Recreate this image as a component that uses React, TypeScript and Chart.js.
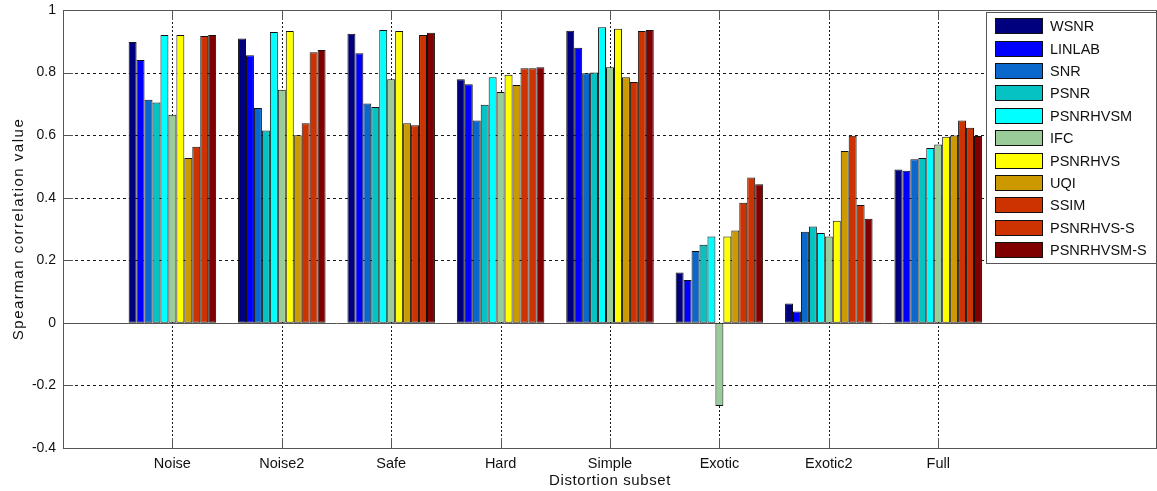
import React, { useEffect, useRef } from 'react';
import { Chart, registerables } from 'chart.js';

Chart.register(...registerables);

// Category slots: index 0 and the last two are empty slots on the axis
const categories = ['', 'Noise', 'Noise2', 'Safe', 'Hard', 'Simple', 'Exotic', 'Exotic2', 'Full', '', ''];

const seriesNames = ['WSNR', 'LINLAB', 'SNR', 'PSNR', 'PSNRHVSM', 'IFC', 'PSNRHVS', 'UQI', 'SSIM', 'PSNRHVS-S', 'PSNRHVSM-S'];
const seriesColors = ['#00007f', '#0000ff', '#0a68cc', '#06c2c2', '#00ffff', '#9acc9a', '#ffff00', '#cc9900', '#cc3300', '#cc3300', '#800000'];

const WSNR = [null, 0.898, 0.909, 0.924, 0.779, 0.934, 0.161, 0.062, 0.490, null, null];
const LINLAB = [null, 0.840, 0.855, 0.862, 0.763, 0.879, 0.137, 0.036, 0.486, null, null];
const SNR = [null, 0.713, 0.687, 0.701, 0.647, 0.798, 0.230, 0.291, 0.523, null, null];
const PSNR = [null, 0.704, 0.615, 0.690, 0.697, 0.800, 0.250, 0.308, 0.527, null, null];
const PSNRHVSM = [null, 0.920, 0.930, 0.936, 0.785, 0.945, 0.276, 0.287, 0.559, null, null];
const IFC = [null, 0.665, 0.745, 0.779, 0.738, 0.817, -0.266, 0.276, 0.570, null, null];
const PSNRHVS = [null, 0.920, 0.933, 0.933, 0.793, 0.940, 0.276, 0.326, 0.595, null, null];
const UQI = [null, 0.527, 0.600, 0.638, 0.760, 0.785, 0.295, 0.549, 0.599, null, null];
const SSIM = [null, 0.563, 0.638, 0.632, 0.814, 0.770, 0.384, 0.598, 0.647, null, null];
const PSNRHVS_S = [null, 0.917, 0.865, 0.920, 0.814, 0.933, 0.465, 0.377, 0.624, null, null];
const PSNRHVSM_S = [null, 0.920, 0.872, 0.927, 0.817, 0.936, 0.443, 0.333, 0.597, null, null];

const seriesValues = [WSNR, LINLAB, SNR, PSNR, PSNRHVSM, IFC, PSNRHVS, UQI, SSIM, PSNRHVS_S, PSNRHVSM_S];

const yTicks = [-0.4, -0.2, 0, 0.2, 0.4, 0.6, 0.8, 1];

const xTitle = 'Distortion subset';
const yTitle = 'Spearman correlation value';

const FONT = '"Liberation Sans", Arial, sans-serif';

const framePlugin = {
  id: 'framePlugin',
  beforeDatasetsDraw(chart: any) {
    const { ctx, chartArea: a, scales } = chart;
    const xs = scales.x;
    const ys = scales.y;
    ctx.save();
    ctx.lineWidth = 1;
    ctx.strokeStyle = '#1a1a1a';
    // horizontal dashed grid
    ctx.setLineDash([3, 3]);
    yTicks.forEach((v) => {
      if (v === 0 || v === yTicks[0] || v === yTicks[yTicks.length - 1]) return;
      const y = Math.round(ys.getPixelForValue(v)) + 0.5;
      ctx.beginPath();
      ctx.moveTo(a.left, y);
      ctx.lineTo(a.right, y);
      ctx.stroke();
    });
    // vertical dotted grid at named categories
    ctx.setLineDash([2, 2]);
    categories.forEach((c, i) => {
      if (!c) return;
      const x = Math.round(xs.getPixelForValue(i)) + 0.5;
      ctx.beginPath();
      ctx.moveTo(x, a.top);
      ctx.lineTo(x, a.bottom);
      ctx.stroke();
    });
    // zero line
    ctx.setLineDash([]);
    ctx.strokeStyle = '#555';
    const y0 = Math.round(ys.getPixelForValue(0)) + 0.5;
    ctx.beginPath();
    ctx.moveTo(a.left, y0);
    ctx.lineTo(a.right, y0);
    ctx.stroke();
    ctx.restore();
  },
  afterDraw(chart: any) {
    const { ctx, chartArea: a, scales } = chart;
    const xs = scales.x;
    const ys = scales.y;
    ctx.save();
    ctx.setLineDash([]);
    ctx.strokeStyle = '#555';
    ctx.lineWidth = 1;
    // box
    ctx.strokeRect(Math.round(a.left) + 0.5, Math.round(a.top) + 0.5, Math.round(a.right - a.left) - 1, Math.round(a.bottom - a.top));
    // inward ticks
    const tl = 10;
    yTicks.forEach((v) => {
      const y = Math.round(ys.getPixelForValue(v)) + 0.5;
      ctx.beginPath();
      ctx.moveTo(a.left, y);
      ctx.lineTo(a.left + tl, y);
      ctx.moveTo(a.right, y);
      ctx.lineTo(a.right - tl, y);
      ctx.stroke();
    });
    categories.forEach((c, i) => {
      if (!c) return;
      const x = Math.round(xs.getPixelForValue(i)) + 0.5;
      ctx.beginPath();
      ctx.moveTo(x, a.bottom);
      ctx.lineTo(x, a.bottom - tl);
      ctx.moveTo(x, a.top);
      ctx.lineTo(x, a.top + tl);
      ctx.stroke();
    });

    // axis titles
    ctx.fillStyle = '#111';
    ctx.textAlign = 'center';
    ctx.textBaseline = 'middle';
    ctx.font = '15px ' + FONT;
    (ctx as any).letterSpacing = '0.6px';
    ctx.fillText(xTitle, (a.left + a.right) / 2, 481);
    ctx.save();
    ctx.translate(18.5, (a.top + a.bottom) / 2);
    ctx.rotate(-Math.PI / 2);
    ctx.font = '15px ' + FONT;
    (ctx as any).letterSpacing = '1.5px';
    ctx.fillText(yTitle, 0, 0);
    ctx.restore();
    (ctx as any).letterSpacing = '0px';

    // legend box
    const lx0 = Math.round(a.right) - 171;
    const ly0 = Math.round(a.top) + 2;
    const lw = 171;
    const lh = 251;
    ctx.fillStyle = '#ffffff';
    ctx.fillRect(lx0, ly0, lw, lh);
    ctx.strokeStyle = '#555';
    ctx.strokeRect(lx0 + 0.5, ly0 + 0.5, lw - 1, lh);
    ctx.font = '14.5px ' + FONT;
    ctx.textBaseline = 'middle';
    ctx.textAlign = 'left';
    chart.data.datasets.forEach((ds: any, i: number) => {
      const cy = ly0 + 14.3 + i * 22.37;
      ctx.fillStyle = ds.backgroundColor;
      ctx.fillRect(lx0 + 9, Math.round(cy - 8), 48, 16);
      ctx.strokeStyle = '#111';
      ctx.strokeRect(lx0 + 9.5, Math.round(cy - 8) + 0.5, 47, 15);
      ctx.fillStyle = '#111';
      ctx.fillText(ds.label, lx0 + 64, cy + 1);
    });
    ctx.restore();
  },
};

export default function App() {
  const canvasRef = useRef<HTMLCanvasElement | null>(null);

  useEffect(() => {
    if (!canvasRef.current) return;
    const chart = new Chart(canvasRef.current, {
      type: 'bar',
      data: {
        labels: categories,
        datasets: seriesNames.map((name, i) => ({
          label: name,
          data: seriesValues[i],
          backgroundColor: seriesColors[i],
          borderColor: '#111111',
          borderWidth: 1,
          borderSkipped: false,
          categoryPercentage: 0.8,
          barPercentage: 1.0,
        })),
      },
      options: {
        animation: false,
        responsive: true,
        maintainAspectRatio: false,
        layout: { padding: { top: 10, right: 0, left: 0, bottom: 0 } },
        plugins: {
          legend: { display: false },
          tooltip: { enabled: false },
        },
        scales: {
          x: {
            type: 'category',
            offset: false,
            grid: { display: false, drawTicks: false },
            border: { display: false },
            ticks: {
              autoSkip: false,
              maxRotation: 0,
              minRotation: 0,
              padding: 7,
              color: '#111',
              font: { family: FONT, size: 14.5 },
            },
            afterFit: (scale: any) => {
              scale.height = 43;
              scale.paddingLeft = 0;
              scale.paddingRight = 0;
            },
          },
          y: {
            min: -0.4,
            max: 1,
            grid: { display: false, drawTicks: false },
            border: { display: false },
            ticks: {
              stepSize: 0.2,
              padding: 7,
              color: '#111',
              font: { family: FONT, size: 14 },
              callback: (v: any) => String(Math.round(Number(v) * 10) / 10),
            },
            afterFit: (scale: any) => {
              scale.width = 63;
              scale.paddingTop = 0;
              scale.paddingBottom = 0;
            },
          },
        },
      },
      plugins: [framePlugin],
    });
    return () => chart.destroy();
  }, []);

  return (
    <div style={{ position: 'absolute', left: 0, top: 0, width: 1157, height: 491, background: '#fff' }}>
      <canvas ref={canvasRef} />
    </div>
  );
}
